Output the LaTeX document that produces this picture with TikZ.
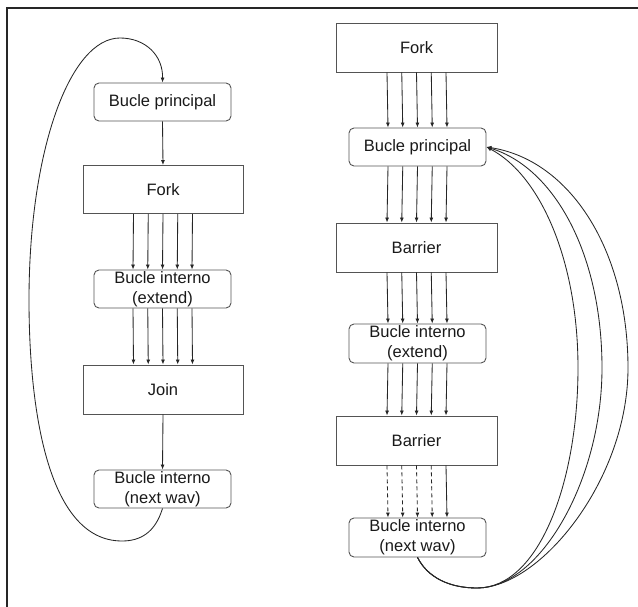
\documentclass[tikz,border=0pt]{standalone}
\usepackage{fontspec}
\setmainfont{Liberation Sans}
\usetikzlibrary{arrows.meta}
\definecolor{edge}{gray}{0.33}
\definecolor{wire}{gray}{0.15}
\tikzset{
  base/.style={draw=edge, line width=0.9pt, inner sep=0pt, align=center,
    font=\fontsize{16.5}{20}\selectfont, text=black!90},
  roundbox/.style={base, rounded corners=5pt, minimum width=137pt, minimum height=38pt},
  sqbox/.style={base, minimum width=160pt, minimum height=48pt},
  arr/.style={draw=wire, line width=0.85pt, -{Latex[length=5pt,width=4pt]}},
  dasharr/.style={arr, dash pattern=on 4pt off 3pt},
}
\begin{document}
\begin{tikzpicture}[x=1pt,y=-1pt]
\useasboundingbox (0,0) rectangle (638,607);
% frame (top and left edges)
\draw[line width=2pt, black!85] (6.5,607) -- (6.5,8.3) -- (638,8.3);

% left diagram
\node[roundbox] (lbp) at (162.5,102) {Bucle principal};
\node[sqbox] (lfork) at (163,189.5) {Fork};
\node[roundbox] (lext) at (162.5,289) {Bucle interno\\(extend)};
\node[sqbox, minimum height=49pt] (ljoin) at (163,389.5) {Join};
\node[roundbox] (lnext) at (162.5,489) {Bucle interno\\(next wav)};

\draw[arr] (lbp.south) -- (lfork.north);
\foreach \d in {-29.5,-14.75,0,14.75,29.5}{
  \draw[arr] ([xshift=\d pt]lfork.south) -- ([xshift=\d pt]lext.north);
  \draw[arr] ([xshift=\d pt]lext.south) -- ([xshift=\d pt]ljoin.north);
}
\draw[arr] (ljoin.south) -- (lnext.north);
\draw[arr] (lnext.south) .. controls (155,533) and (140,541) .. (122,541)
  .. controls (45,541) and (29,400) .. (29,300)
  .. controls (29,150) and (70,38) .. (120,38)
  .. controls (145,38) and (163,55) .. (lbp.north);

% right diagram
\node[sqbox, minimum width=161pt, minimum height=49pt] (rfork) at (416.5,47.5) {Fork};
\node[roundbox] (rbp) at (417.5,147) {Bucle principal};
\node[sqbox, minimum width=161pt, minimum height=49pt] (rbar1) at (416.5,247.5) {Barrier};
\node[roundbox, minimum height=39pt] (rext) at (417.5,343.5) {Bucle interno\\(extend)};
\node[sqbox, minimum width=161pt, minimum height=49pt] (rbar2) at (416.5,440.5) {Barrier};
\node[roundbox, minimum height=39pt] (rnext) at (417.5,537.5) {Bucle interno\\(next wav)};

\foreach \d in {-29.5,-14.75,0,14.75,29.5}{
  \draw[arr] ([xshift=\d pt]rfork.south) -- ([xshift=\d pt]rbp.north);
  \draw[arr] ([xshift=\d pt]rbp.south) -- ([xshift=\d pt]rbar1.north);
  \draw[arr] ([xshift=\d pt]rbar1.south) -- ([xshift=\d pt]rext.north);
  \draw[arr] ([xshift=\d pt]rext.south) -- ([xshift=\d pt]rbar2.north);
}
\foreach \d in {-29.5,-14.75,0,14.75}{
  \draw[dasharr] ([xshift=\d pt]rbar2.south) -- ([xshift=\d pt]rnext.north);
}
\draw[arr] ([xshift=29.5pt]rbar2.south) -- ([xshift=29.5pt]rnext.north);

% return loops
\foreach \m/\c/\e/\h in {628/570/160/250, 602/555/168/255, 578/540/175/260}{
  \draw[arr] (rnext.south) .. controls (428,578) and (450,588) .. (477,588)
    .. controls (540,588) and (\m,480) .. (\m,368)
    .. controls (\m,\h) and (\c,\e) .. (rbp.east);
}
\end{tikzpicture}
\end{document}
